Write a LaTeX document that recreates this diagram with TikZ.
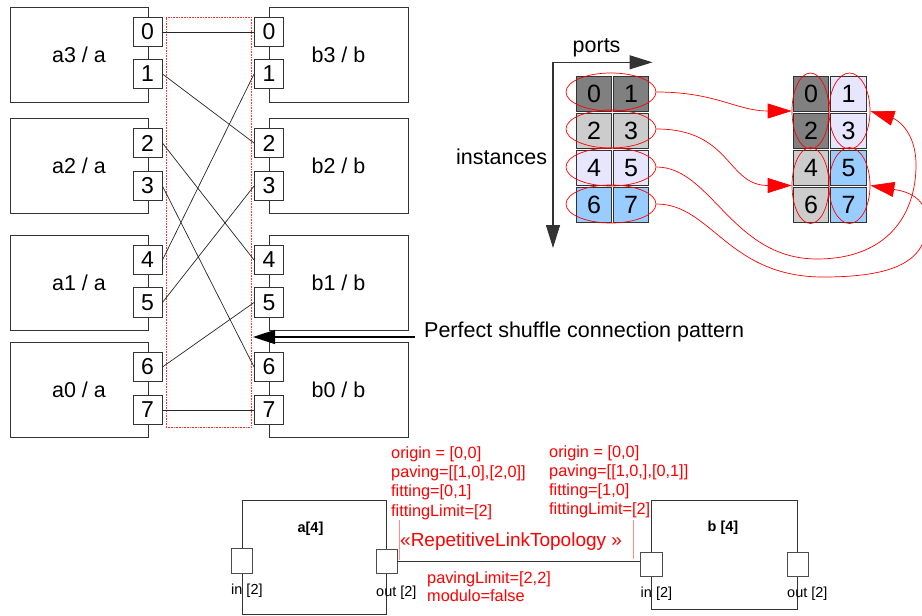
\documentclass[tikz,border=0pt]{standalone}
\usepackage{fontspec}
\setmainfont{Liberation Sans}
\usetikzlibrary{arrows.meta,shapes.geometric}

\definecolor{cdark}{HTML}{808080}
\definecolor{clight}{HTML}{CCCCCC}
\definecolor{clav}{HTML}{E6E6FF}
\definecolor{cblue}{HTML}{99CCFF}
\definecolor{edge}{HTML}{333333}

\tikzset{
  blk/.style={draw=edge, line width=0.9pt, fill=white, inner sep=0pt},
  inst/.style={blk, minimum width=138pt, minimum height=95pt, font=\fontsize{21.5}{24}\selectfont},
  pin/.style={draw=edge, fill=white, line width=0.9pt, minimum width=29pt, minimum height=29.5pt,
              inner sep=0pt, font=\fontsize{23}{24}\selectfont},
  wire/.style={line width=0.7pt, black!85},
  cell/.style={draw=edge, line width=0.8pt, minimum width=35.5pt, minimum height=35.5pt,
               inner sep=0pt, font=\fontsize{25}{26}\selectfont},
  ring/.style={ellipse, draw=red, line width=0.7pt, inner sep=0pt},
  redarrow/.style={red, line width=0.7pt, -{Triangle[length=24pt,width=15pt]}},
  axis/.style={edge, line width=1.1pt, {Triangle[length=23pt,width=14pt]}-{Triangle[length=23pt,width=14pt]}},
  label/.style={font=\fontsize{21.5}{24}\selectfont, inner sep=0pt},
  note/.style={text=red, font=\fontsize{16.3}{19}\selectfont, inner sep=0pt, anchor=base west},
  sport/.style={draw=black!70, fill=white, line width=0.9pt, inner sep=0pt},
  small/.style={font=\fontsize{14.5}{16}\selectfont, inner sep=0pt},
}

\begin{document}
\begin{tikzpicture}[x=1pt,y=-1pt]
\useasboundingbox (0,0) rectangle (922,616);

% ---------------- perfect shuffle between instances ----------------
% region of the link
\node[draw=red!80, densely dotted, line width=0.6pt, minimum width=85pt, minimum height=410pt, inner sep=0pt]
  (zone) at (208.5,222) {};

% producer instances
\node[inst] (a3) at (79,54.5)  {a3 / a};
\node[inst] (a2) at (79,165.5) {a2 / a};
\node[inst] (a1) at (79,282.5) {a1 / a};
\node[inst] (a0) at (79,389.5) {a0 / a};
% consumer instances
\node[inst, minimum width=139pt] (b3) at (338.5,54.5)  {b3 / b};
\node[inst, minimum width=139pt] (b2) at (338.5,165.5) {b2 / b};
\node[inst, minimum width=139pt] (b1) at (338.5,282.5) {b1 / b};
\node[inst, minimum width=139pt] (b0) at (338.5,389.5) {b0 / b};

% ports
\foreach \i/\y in {0/32,1/74,2/143,3/186,4/260,5/302.5,6/367,7/410}{
  \node[pin] (pa\i) at (147.5,\y) {\i};
  \node[pin] (pb\i) at (269,\y) {\i};
}

% shuffle wiring
\foreach \s/\t in {0/0,1/2,2/4,3/6,4/1,5/3,6/5,7/7}{
  \draw[wire] (pa\s.east) -- (pb\t.west);
}

% caption arrow
\node[label, anchor=base west] (shuf) at (424,337.5) {Perfect shuffle connection pattern};
\coordinate (shuftail) at (415,337);
\coordinate (shuftip) at (253,337);
\draw[line width=1.6pt, -{Triangle[length=22pt,width=14pt]}] (shuftail) -- (shuftip);

% ---------------- index mapping ----------------
\coordinate (ax0) at (553,62.3);
\coordinate (axp) at (652.5,62.3);
\coordinate (axi) at (553,248);
\draw[axis] (axp) -- (ax0) -- (axi);
\node[label, anchor=base west] (ports) at (572.5,52.5) {ports};
\node[label, anchor=base west] (insts) at (456,164) {instances};

% source array (instances x ports)
\node[cell, fill=cdark]  (l0) at (594,94)    {0};
\node[cell, fill=cdark]  (l1) at (631,94)    {1};
\node[cell, fill=clight] (l2) at (594,131)   {2};
\node[cell, fill=clight] (l3) at (631,131)   {3};
\node[cell, fill=clav]   (l4) at (594,168)   {4};
\node[cell, fill=clav]   (l5) at (631,168)   {5};
\node[cell, fill=cblue]  (l6) at (594,205)   {6};
\node[cell, fill=cblue]  (l7) at (631,205)   {7};

% target array
\node[cell, fill=cdark]  (r0) at (811,94)    {0};
\node[cell, fill=clav]   (r1) at (848.5,94)  {1};
\node[cell, fill=cdark]  (r2) at (811,131)   {2};
\node[cell, fill=clav]   (r3) at (848.5,131) {3};
\node[cell, fill=clight] (r4) at (811,168)   {4};
\node[cell, fill=cblue]  (r5) at (848.5,168) {5};
\node[cell, fill=clight] (r6) at (811,205)   {6};
\node[cell, fill=cblue]  (r7) at (848.5,205) {7};

% row groups
\node[ring, minimum width=90pt, minimum height=38pt] (e0) at (611,92)  {};
\node[ring, minimum width=90pt, minimum height=38pt] (e1) at (611,129) {};
\node[ring, minimum width=90pt, minimum height=38pt] (e2) at (611,167) {};
\node[ring, minimum width=90pt, minimum height=38pt] (e3) at (611,204) {};
% column groups
\node[ring, minimum width=37pt, minimum height=76pt] (f0) at (810.5,111)   {};
\node[ring, minimum width=41pt, minimum height=76pt] (f1) at (849.5,111)   {};
\node[ring, minimum width=37pt, minimum height=76pt] (f2) at (810.5,185.5) {};
\node[ring, minimum width=41pt, minimum height=76pt] (f3) at (849.5,185.5) {};

% mapping arrows
\draw[redarrow] (e0.east) .. controls +(60,0) and +(-55,0) .. (f0.west);
\draw[redarrow] (e1.east) .. controls +(75,0) and +(-65,0) .. (f2.west);
\draw[redarrow] (e2.east) .. controls +(55,0) and +(-85,0) .. (817,259)
  .. controls +(70,0) and +(0,50) .. (916,165)
  .. controls +(0,-35) and +(25,8) .. (f1.east);
\draw[redarrow] (e3.east) .. controls +(55,0) and +(-95,0) .. (823,277)
  .. controls +(70,0) and +(0,40) .. (927,222)
  .. controls +(0,-28) and +(30,5) .. (f3.east);

% ---------------- model view ----------------
\node[blk, minimum width=144pt, minimum height=114pt] (A) at (314,557) {};
\node[blk, minimum width=146pt, minimum height=109pt] (B) at (724,554.5) {};
\node[small, font=\fontsize{14.5}{16}\selectfont\bfseries, anchor=base] (Alab) at (310.5,532) {a[4]};
\node[small, font=\fontsize{14.5}{16}\selectfont\bfseries, anchor=base] (Blab) at (723,531) {b [4]};

\node[sport, minimum width=21pt, minimum height=25pt] (ain)  at (241.5,560.5) {};
\node[sport, minimum width=21pt, minimum height=24pt] (aout) at (386.5,561.5) {};
\node[sport, minimum width=22pt, minimum height=24pt] (bin)  at (651,564)     {};
\node[sport, minimum width=21pt, minimum height=24pt] (bout) at (797.5,564)   {};

\node[small, anchor=base west] (ainl)  at (231,594)   {in [2]};
\node[small, anchor=base west] (aoutl) at (376,596)   {out [2]};
\node[small, anchor=base west] (binl)  at (640.5,597) {in [2]};
\node[small, anchor=base west] (boutl) at (787,597)   {out [2]};

% the link
\draw[line width=1.2pt, edge] (aout.east) -- (aout.east -| bin.west);

% link end annotations
\coordinate (la1) at (399,520);
\coordinate (la2) at (399,560);
\coordinate (lb1) at (633,520);
\coordinate (lb2) at (633,559);
\draw[red!45, line width=0.6pt] (la1) -- (la2);
\draw[red!45, line width=0.6pt] (lb1) -- (lb2);

\node[note] (n1) at (391,458)   {origin = [0,0]};
\node[note] (n2) at (391,477.3) {paving=[[1,0],[2,0]]};
\node[note] (n3) at (391,496.6) {fitting=[0,1]};
\node[note] (n4) at (391,516)   {fittingLimit=[2]};

\node[note] (m1) at (549,457.5) {origin = [0,0]};
\node[note] (m2) at (549,476.3) {paving=[[1,0,],[0,1]]};
\node[note] (m3) at (549,495.1) {fitting=[1,0]};
\node[note] (m4) at (549,514)   {fittingLimit=[2]};

\node[note, font=\fontsize{19}{22}\selectfont] (stereo) at (400,546) {«RepetitiveLinkTopology »};
\node[note] (p1) at (427,583.5) {pavingLimit=[2,2]};
\node[note] (p2) at (427,601.5) {modulo=false};
\end{tikzpicture}
\end{document}
